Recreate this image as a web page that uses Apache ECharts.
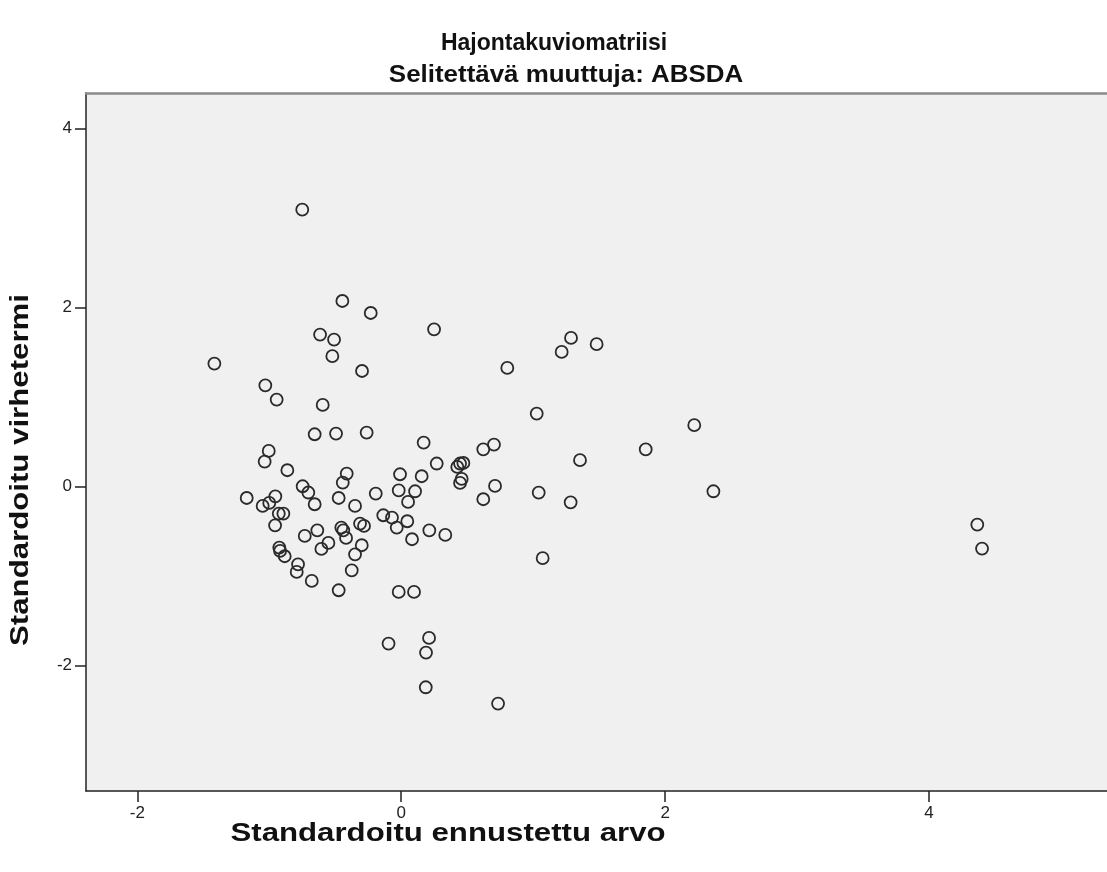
<!DOCTYPE html>
<html>
<head>
<meta charset="utf-8">
<script src="https://cdn.jsdelivr.net/npm/echarts@6/dist/echarts.min.js"></script>
<style>
html,body{margin:0;padding:0;background:#fff;}
#main{width:1107px;height:872px;}
</style>
</head>
<body>
<div id="main"></div>
<script>
// Data
const predicted = [
  -0.750, -0.446, -0.231, -0.615, -0.509, -0.522, -1.416, -0.297, -1.030, -0.944,
  -0.595, -0.656, -0.494, -0.262, -1.004, -1.035, -0.863, -0.413, -0.443, -0.009,
  -0.747, -0.704, -0.656, -1.171, -1.050, -1.000, -0.954, -0.928, -0.893, -0.956,
  -0.474, -0.350, -0.193, -0.019,  0.052,  0.105, -0.136, -0.070, -0.034,  0.046,
   0.082, -0.636, -0.731, -0.454, -0.439, -0.418, -0.312, -0.282, -0.552, -0.605,
  -0.299, -0.350, -0.924, -0.918, -0.883, -0.782, -0.792, -0.678, -0.375, -0.474,
  -0.019,  0.097,  1.027,  0.170,  0.622,  0.703,  0.269,  0.446,  0.471,  0.425,
   0.458,  0.446,  1.355,  0.155,  0.711,  0.622,  1.042,  1.284,  0.213,  0.334,
   1.072, -0.096,  0.211,  0.188,  0.186,  0.734,  0.249,  0.804,  1.216,  1.287,
   1.481,  1.853,  2.221,  2.366,  4.366,  4.402
];
const residual = [
   3.090,  2.070,  1.936,  1.695,  1.639,  1.453,  1.371,  1.288,  1.128,  0.968,
   0.909,  0.581,  0.589,  0.600,  0.395,  0.276,  0.179,  0.142,  0.041,  0.134,
   0.000, -0.070, -0.201, -0.131, -0.220, -0.186, -0.112, -0.305, -0.305, -0.436,
  -0.131, -0.220, -0.082, -0.045, -0.175, -0.056, -0.324, -0.350, -0.462, -0.391,
  -0.592, -0.492, -0.555, -0.462, -0.492, -0.577, -0.417, -0.443, -0.633, -0.700,
  -0.659, -0.760, -0.685, -0.722, -0.782, -0.872, -0.957, -1.058, -0.939, -1.162,
  -1.181, -1.181,  0.812,  0.488,  0.413,  0.466,  0.254,  0.254,  0.260,  0.216,
   0.082,  0.037,  0.291,  0.112,  0.004, -0.145, -0.071, -0.179, -0.492, -0.544,
  -0.804, -1.758, -1.695, -1.858, -2.246, -2.428,  1.754,  1.322,  1.501,  1.657,
   1.587,  0.413,  0.682, -0.056, -0.428, -0.696
];
const xTicks = [-2, 0, 2, 4];
const yTicks = [-2, 0, 2, 4];
const titleText = 'Hajontakuviomatriisi';
const subtitleText = 'Selitettävä muuttuja: ABSDA';
const xName = 'Standardoitu ennustettu arvo';
const yName = 'Standardoitu virhetermi';

const points = predicted.map((x, i) => [x, residual[i]]);
const FONT = '"Liberation Sans", Arial, sans-serif';

const chart = echarts.init(document.getElementById('main'), null, {renderer: 'canvas'});
chart.setOption({
  backgroundColor: '#ffffff',
  animation: false,
  grid: {
    left: 86, right: 0, top: 93, bottom: 81,
    show: true, backgroundColor: '#f0f0f0', borderWidth: 0
  },
  xAxis: [{
    type: 'value', position: 'bottom',
    min: -2.389, max: 5.349,
    splitLine: {show: false},
    axisLine: {show: true, onZero: false, lineStyle: {color: '#222', width: 1.5}},
    axisTick: {show: true, inside: false, length: 11, customValues: xTicks, lineStyle: {color: '#222', width: 1.5}},
    axisLabel: {customValues: xTicks, color: '#222', fontSize: 17, fontFamily: FONT, margin: 14, formatter: v => String(v)}
  }, {
    type: 'value', position: 'top',
    min: -2.389, max: 5.349,
    splitLine: {show: false},
    axisLine: {show: true, onZero: false, lineStyle: {color: '#8a8a8a', width: 2.5}},
    axisTick: {show: false},
    axisLabel: {show: false}
  }],
  yAxis: {
    type: 'value',
    min: -3.405, max: 4.394,
    splitLine: {show: false},
    axisLine: {show: true, onZero: false, lineStyle: {color: '#222', width: 1.5}},
    axisTick: {show: true, inside: false, length: 11, customValues: yTicks, lineStyle: {color: '#222', width: 1.5}},
    axisLabel: {customValues: yTicks, color: '#222', fontSize: 17, fontFamily: FONT, margin: 14, formatter: v => String(v)}
  },
  graphic: [
    {type: 'text', x: 554, y: 44, style: {text: titleText, font: 'bold 23px ' + FONT, fill: '#111', align: 'center', verticalAlign: 'middle'}},
    {type: 'text', x: 566, y: 75, scaleX: 1.08, style: {text: subtitleText, font: 'bold 24px ' + FONT, fill: '#111', align: 'center', verticalAlign: 'middle'}},
    {type: 'text', x: 448, y: 834, scaleX: 1.2, style: {text: xName, font: 'bold 26px ' + FONT, fill: '#111', align: 'center', verticalAlign: 'middle'}},
    {type: 'text', x: 21, y: 470, rotation: Math.PI / 2, scaleX: 1.2, style: {text: yName, font: 'bold 26px ' + FONT, fill: '#111', align: 'center', verticalAlign: 'middle'}}
  ],
  series: [{
    type: 'scatter',
    xAxisIndex: 0,
    data: points,
    symbol: 'circle',
    symbolSize: 12,
    itemStyle: {color: 'rgba(0,0,0,0)', borderColor: '#2a2a2a', borderWidth: 1.8, opacity: 1},
    emphasis: {disabled: true}
  }]
});
</script>
</body>
</html>
